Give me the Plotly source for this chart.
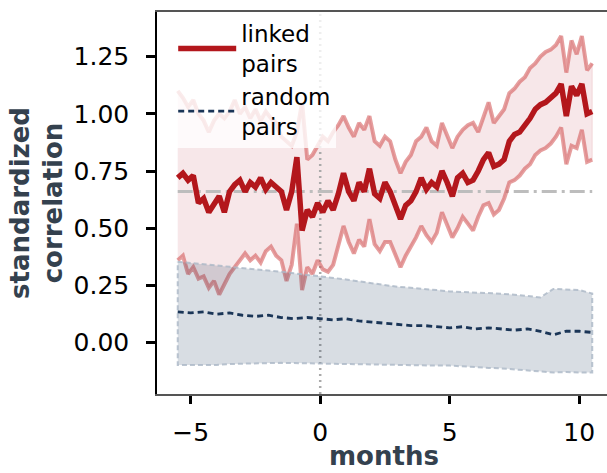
import plotly.graph_objects as go

# ---------------- data ----------------
months = [-5.5, -5.3, -5.1, -4.9, -4.7, -4.5, -4.3, -4.1, -3.9, -3.7, -3.5, -3.3, -3.1, -2.9, -2.7,
          -2.5, -2.3, -2.1, -1.9, -1.7, -1.5, -1.3, -1.1, -0.9, -0.7, -0.5, -0.3, -0.1, 0.1, 0.3,
          0.5, 0.7, 0.9, 1.1, 1.3, 1.5, 1.7, 1.9, 2.1, 2.3, 2.5, 2.7, 2.9, 3.1, 3.3, 3.5, 3.7, 3.9,
          4.1, 4.3, 4.5, 4.7, 4.9, 5.1, 5.3, 5.5, 5.7, 5.9, 6.1, 6.3, 6.5, 6.7, 6.9, 7.1, 7.3, 7.5,
          7.7, 7.9, 8.1, 8.3, 8.5, 8.7, 8.9, 9.1, 9.3, 9.5, 9.7, 9.9, 10.1, 10.3, 10.5]

linked_mean = [0.72, 0.74, 0.71, 0.73, 0.61, 0.63, 0.57, 0.60, 0.64, 0.57, 0.66, 0.69, 0.71, 0.66, 0.70,
               0.68, 0.72, 0.67, 0.70, 0.68, 0.66, 0.58, 0.66, 0.81, 0.49, 0.58, 0.55, 0.61, 0.57, 0.62,
               0.58, 0.65, 0.74, 0.66, 0.62, 0.70, 0.66, 0.76, 0.65, 0.63, 0.70, 0.66, 0.60, 0.54, 0.60,
               0.62, 0.66, 0.72, 0.67, 0.70, 0.68, 0.75, 0.70, 0.64, 0.72, 0.74, 0.70, 0.71, 0.75, 0.80,
               0.83, 0.77, 0.78, 0.80, 0.88, 0.91, 0.92, 0.95, 0.98, 1.02, 1.04, 1.05, 1.07, 1.09, 1.13,
               0.99, 1.12, 1.08, 1.13, 1.00, 1.01]

linked_upper = [1.10, 1.07, 1.03, 1.06, 1.00, 0.97, 0.92, 0.97, 1.00, 0.98, 1.01, 1.06, 1.00, 1.03, 0.98,
                1.02, 0.97, 1.01, 0.98, 0.96, 0.90, 0.88, 0.86, 0.92, 1.05, 0.80, 0.82, 0.86, 0.90, 0.88,
                0.92, 0.95, 0.99, 0.94, 0.90, 0.96, 0.93, 0.99, 0.88, 0.86, 0.90, 0.88, 0.80, 0.74, 0.79,
                0.82, 0.88, 0.90, 0.94, 0.88, 0.86, 0.96, 0.90, 0.85, 0.90, 0.93, 0.95, 0.96, 0.92, 0.98,
                1.05, 0.96, 0.99, 1.02, 1.09, 1.11, 1.14, 1.16, 1.20, 1.22, 1.25, 1.27, 1.28, 1.30, 1.34,
                1.18, 1.32, 1.26, 1.34, 1.19, 1.22]

linked_lower = [0.36, 0.38, 0.30, 0.33, 0.28, 0.29, 0.24, 0.27, 0.21, 0.26, 0.30, 0.33, 0.36, 0.39, 0.36,
                0.38, 0.35, 0.40, 0.42, 0.38, 0.36, 0.27, 0.34, 0.52, 0.23, 0.33, 0.30, 0.36, 0.32, 0.31,
                0.34, 0.42, 0.51, 0.44, 0.39, 0.45, 0.42, 0.54, 0.43, 0.40, 0.44, 0.44, 0.38, 0.33, 0.38,
                0.42, 0.46, 0.51, 0.47, 0.44, 0.48, 0.57, 0.52, 0.46, 0.50, 0.55, 0.52, 0.49, 0.55, 0.60,
                0.61, 0.56, 0.58, 0.63, 0.70, 0.71, 0.73, 0.76, 0.78, 0.82, 0.84, 0.85, 0.87, 0.90, 0.94,
                0.78, 0.86, 0.85, 0.93, 0.79, 0.80]

random_months = [-5.5, -5.0, -4.5, -4.0, -3.5, -3.0, -2.5, -2.0, -1.5, -1.0, -0.5, 0.0, 0.5, 1.0, 1.5,
                 2.0, 2.5, 3.0, 3.5, 4.0, 4.5, 5.0, 5.5, 6.0, 6.5, 7.0, 7.5, 8.0, 8.5, 9.0, 9.5, 10.0, 10.5]
random_mean = [0.135, 0.130, 0.135, 0.125, 0.130, 0.120, 0.115, 0.120, 0.110, 0.105, 0.110, 0.105, 0.100,
               0.105, 0.095, 0.090, 0.085, 0.080, 0.075, 0.075, 0.070, 0.065, 0.070, 0.060, 0.065, 0.060,
               0.055, 0.060, 0.050, 0.035, 0.050, 0.050, 0.045]
random_upper = [0.354, 0.348, 0.342, 0.336, 0.332, 0.326, 0.320, 0.315, 0.310, 0.302, 0.296, 0.290, 0.284,
                0.276, 0.268, 0.260, 0.252, 0.244, 0.240, 0.236, 0.230, 0.224, 0.222, 0.220, 0.216, 0.214,
                0.210, 0.205, 0.198, 0.235, 0.232, 0.230, 0.215]
random_lower = [-0.097, -0.095, -0.096, -0.097, -0.093, -0.092, -0.090, -0.089, -0.088, -0.087, -0.088,
                -0.089, -0.092, -0.094, -0.095, -0.096, -0.097, -0.097, -0.098, -0.099, -0.100, -0.100,
                -0.104, -0.106, -0.110, -0.112, -0.116, -0.120, -0.125, -0.130, -0.128, -0.130, -0.130]

reference_level = 0.66
event_month = 0

x_ticks = [-5, 0, 5, 10]
x_ticktext = ["\u22125", "0", "5", "10"]
y_ticks = [0.0, 0.25, 0.5, 0.75, 1.0, 1.25]

# ---------------- styles ----------------
RED = "#b3171c"
RED_LIGHT = "rgba(210,80,80,0.55)"
RED_FILL = "rgba(178,24,43,0.10)"
NAVY = "#1a3557"
GRAY_FILL = "rgba(26,53,87,0.17)"
GRAY_EDGE = "rgba(170,182,198,0.8)"
TITLE_COLOR = "#34414e"

Y_RANGE = [-0.224, 1.4445]

fig = go.Figure()

# linked band fill
fig.add_trace(go.Scatter(
    x=months + months[::-1], y=linked_upper + linked_lower[::-1],
    fill="toself", fillcolor=RED_FILL, mode="lines",
    line=dict(color="rgba(178,24,43,0.12)", width=1),
    showlegend=False, hoverinfo="skip"))

# reference lines
fig.add_trace(go.Scatter(
    x=[months[0], months[-1]], y=[reference_level, reference_level], mode="lines",
    line=dict(color="#bdbdbd", width=3, dash="15px,5px,3px,5px"),
    showlegend=False, hoverinfo="skip"))

fig.add_trace(go.Scatter(
    x=[event_month, event_month], y=Y_RANGE, mode="lines",
    line=dict(color="#aaaaaa", width=2.5, dash="2px,4px"),
    showlegend=False, hoverinfo="skip"))

# linked band edges
fig.add_trace(go.Scatter(x=months, y=linked_upper, mode="lines",
                         line=dict(color=RED_LIGHT, width=4), showlegend=False))
fig.add_trace(go.Scatter(x=months, y=linked_lower, mode="lines",
                         line=dict(color=RED_LIGHT, width=4), showlegend=False))

# linked mean
fig.add_trace(go.Scatter(x=months, y=linked_mean, mode="lines", name="linked<br>pairs",
                         line=dict(color=RED, width=5.5)))

# random band
fig.add_trace(go.Scatter(
    x=random_months + random_months[::-1] + [random_months[0]],
    y=random_upper + random_lower[::-1] + [random_upper[0]],
    fill="toself", fillcolor=GRAY_FILL, mode="lines",
    line=dict(color=GRAY_EDGE, width=2, dash="5px,3px"),
    showlegend=False, hoverinfo="skip"))

fig.add_trace(go.Scatter(x=random_months, y=random_mean, mode="lines", name="random<br>pairs",
                         line=dict(color=NAVY, width=2.8, dash="6px,4px")))

fig.update_layout(
    width=607, height=473,
    margin=dict(l=157, r=0, t=12, b=79, autoexpand=False),
    paper_bgcolor="white", plot_bgcolor="white",
    font=dict(family="DejaVu Sans", size=25, color="black"),
    legend=dict(x=0.036, y=1.0, xanchor="left", yanchor="top",
                bgcolor="rgba(255,255,255,0.8)", borderwidth=0,
                font=dict(size=23, color="black"), itemwidth=58,
                tracegroupgap=0),
    xaxis=dict(range=[-6.30, 11.07], tickvals=x_ticks, ticktext=x_ticktext,
               automargin=False,
               showgrid=False, zeroline=False,
               showline=True, linecolor="#555555", linewidth=1.5, mirror=True,
               ticks="outside", ticklen=8, tickwidth=2.5, tickcolor="black",
               ticklabelstandoff=7,
               tickfont=dict(size=25)),
    yaxis=dict(range=Y_RANGE, tickvals=y_ticks, tickformat=".2f",
               automargin=False,
               showgrid=False, zeroline=False,
               showline=True, linecolor="black", linewidth=1.5,
               ticks="outside", ticklen=9, tickwidth=2.5, tickcolor="black",
               ticklabelstandoff=12,
               tickfont=dict(size=25),
               title=dict(text="<b>standardized<br>correlation</b>", font=dict(size=26, color=TITLE_COLOR),
                          standoff=3)),
    annotations=[dict(text="<b>months</b>", xref="paper", yref="paper", x=0.505, y=-0.163,
                      xanchor="center", yanchor="middle", showarrow=False,
                      font=dict(size=26, color=TITLE_COLOR))],
)

fig.write_html("out.html", config={"displayModeBar": False},
               post_script="document.body.style.margin='0';document.body.style.overflow='hidden';")
